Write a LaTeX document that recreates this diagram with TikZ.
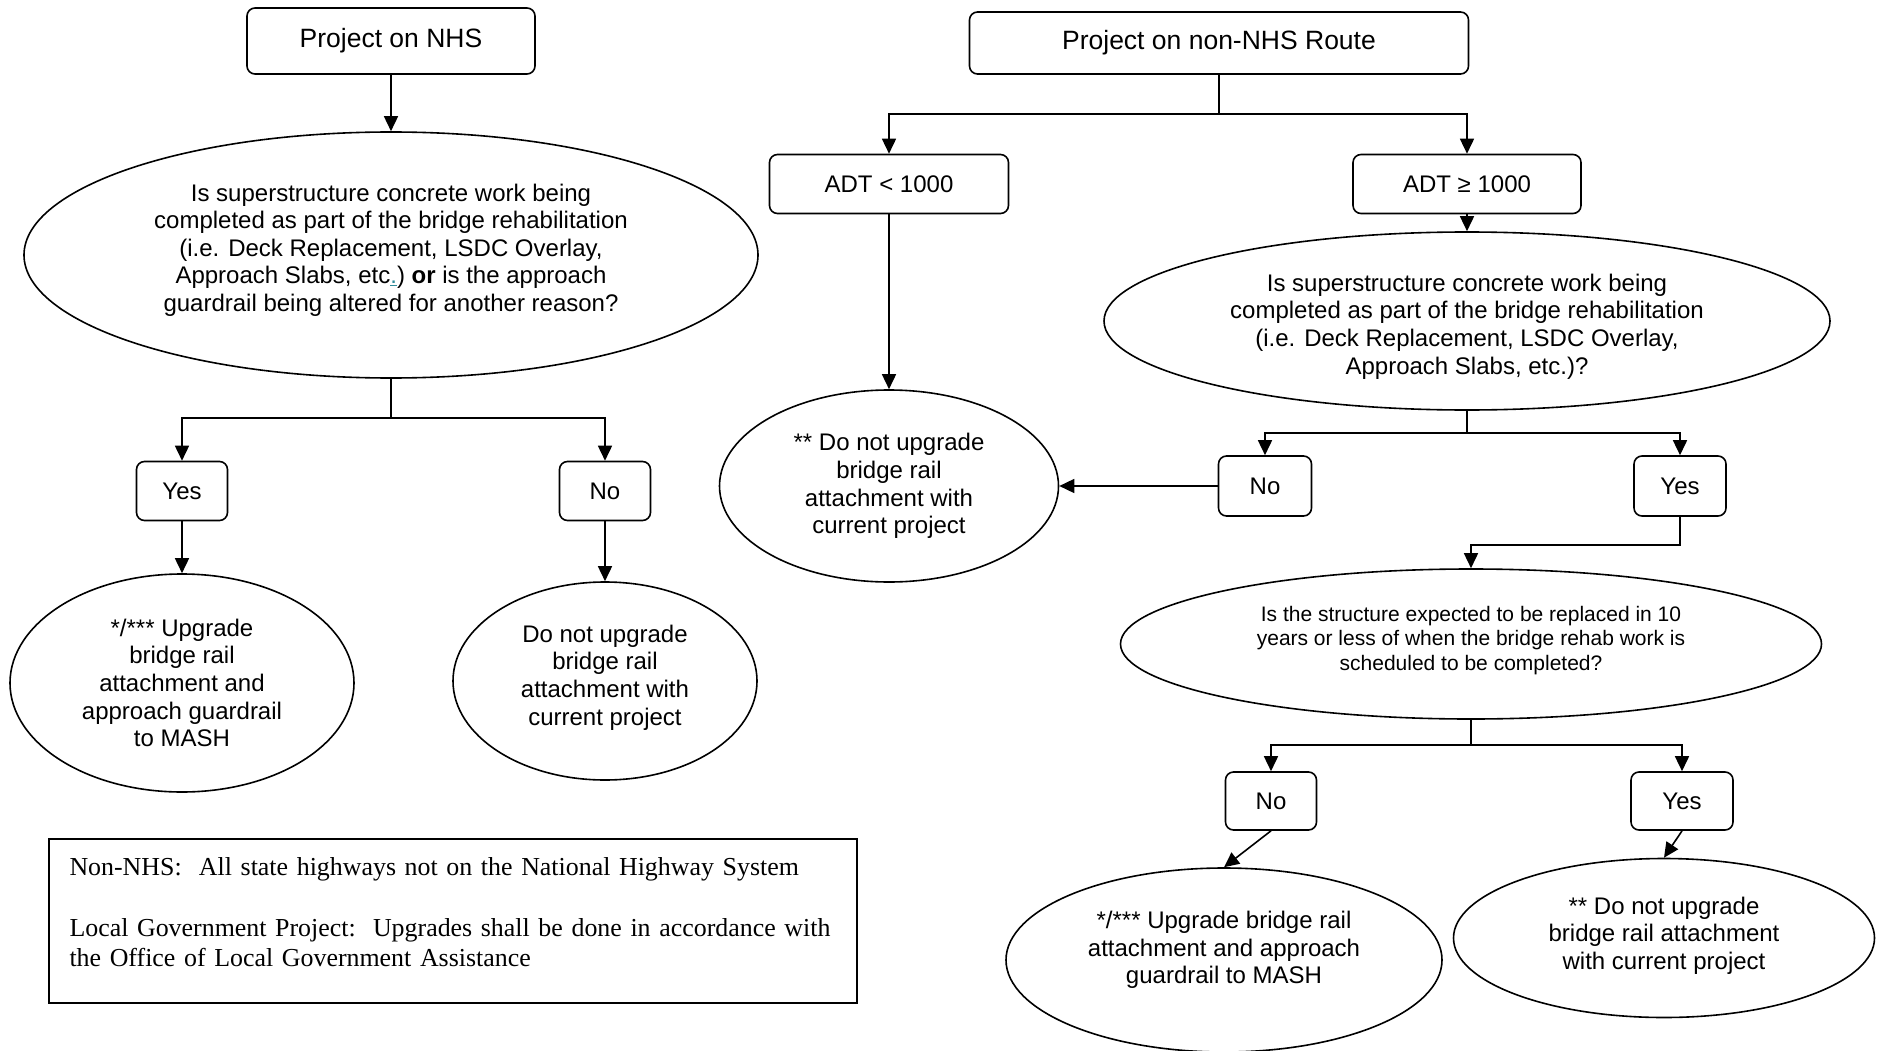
\documentclass[tikz,border=0pt]{standalone}
\usepackage{fontspec}
\setmainfont{Liberation Sans}
\newfontfamily\legendfont{Liberation Serif}
\usetikzlibrary{arrows.meta,shapes.geometric}
\definecolor{markteal}{HTML}{2E8B9A}
\begin{document}
\begin{tikzpicture}[x=1pt,y=-1pt,
  box/.style={draw, rounded corners=8pt, line width=1.6pt, inner sep=0pt, align=center,
    font=\fontsize{24}{27.6}\selectfont},
  bigbox/.style={box, font=\fontsize{26.5}{30}\selectfont},
  oval/.style={draw, ellipse, line width=1.6pt, inner sep=0pt},
  ovaltxt/.style={inner sep=0pt, align=center, font=\fontsize{24}{27.6}\selectfont},
  smalltxt/.style={ovaltxt, font=\fontsize{21}{24.6}\selectfont},
  arr/.style={line width=1.6pt, -{Triangle[length=15pt,width=14pt]}},
  ln/.style={line width=1.6pt},
  legendbox/.style={draw, line width=1.4pt, inner sep=0pt},
  legendtxt/.style={anchor=north west, align=left, inner sep=0pt, text width=790pt,
    font=\legendfont\fontsize{25.9}{30.5}\selectfont}]
\useasboundingbox (0,0) rectangle (1881,1051);

% ---------- left part ----------
\node[bigbox, minimum width=288pt, minimum height=66pt] (nhs) at (391,41) {Project on NHS};
\node[oval, minimum width=734pt, minimum height=246pt] (q1) at (391,255) {};
\node[ovaltxt] (q1t) at ([yshift=5pt]q1.center)
  {Is superstructure concrete work being\\completed as part of the bridge rehabilitation\\(i.e. Deck Replacement, LSDC Overlay,\\Approach Slabs, etc\textcolor{markteal}{\underline{.}}) \textbf{or} is the approach\\guardrail being altered for another reason?};
\coordinate (b1) at (391,418);
\node[box, minimum width=91pt, minimum height=59pt] (yes1) at (182,491) {Yes};
\node[box, minimum width=91pt, minimum height=59pt] (no1) at (605,491) {No};
\node[oval, minimum width=344pt, minimum height=218pt] (up1) at (182,683) {};
\node[ovaltxt] (up1t) at (up1.center)
  {*/*** Upgrade\\bridge rail\\attachment and\\approach guardrail\\to MASH};
\node[oval, minimum width=304pt, minimum height=198pt] (dn1) at (605,681) {};
\node[ovaltxt] (dn1t) at ([yshift=3.6pt]dn1.center)
  {Do not upgrade\\bridge rail\\attachment with\\current project};

\draw[arr] (nhs.south) -- (q1.north);
\draw[ln] (q1.south) -- (b1);
\draw[arr] (b1) -| (yes1.north);
\draw[arr] (b1) -| (no1.north);
\draw[arr] (yes1.south) -- (up1.north);
\draw[arr] (no1.south) -- (dn1.north);

% legend
\node[legendbox, minimum width=808pt, minimum height=164pt] (legend) at (453,921) {};
\node[legendtxt] (legendtext) at ([xshift=21pt,yshift=-19pt]legend.north west)
  {Non-NHS:\ \ All state highways not on the National Highway System\\[30.5pt]
   Local Government Project:\ \ Upgrades shall be done in accordance with\\
   the Office of Local Government Assistance};

% ---------- right part ----------
\node[bigbox, minimum width=499pt, minimum height=62pt] (nnhs) at (1219,43) {Project on non-NHS Route};
\coordinate (b2) at (1219,114);
\node[box, minimum width=239pt, minimum height=59pt] (adtl) at (889,184) {ADT < 1000};
\node[box, minimum width=228pt, minimum height=59pt] (adtg) at (1467,184) {ADT ≥ 1000};
\node[oval, minimum width=339pt, minimum height=192pt] (dn2) at (889,486) {};
\node[ovaltxt] (dn2t) at (dn2.center)
  {** Do not upgrade\\bridge rail\\attachment with\\current project};
\node[oval, minimum width=726pt, minimum height=178pt] (q2) at (1467,321) {};
\node[ovaltxt] (q2t) at ([yshift=-5.4pt]q2.center)
  {Is superstructure concrete work being\\completed as part of the bridge rehabilitation\\(i.e. Deck Replacement, LSDC Overlay,\\Approach Slabs, etc.)?};
\coordinate (b3) at (1467,433);
\node[box, minimum width=93pt, minimum height=60pt] (no2) at (1265,486) {No};
\node[box, minimum width=92pt, minimum height=60pt] (yes2) at (1680,486) {Yes};
\node[oval, minimum width=701pt, minimum height=150pt] (q3) at (1471,644) {};
\node[smalltxt] (q3t) at ([yshift=3.6pt]q3.center)
  {Is the structure expected to be replaced in 10\\years or less of when the bridge rehab work is\\scheduled to be completed?};
\coordinate (b4) at (1471,745);
\node[box, minimum width=91pt, minimum height=58pt] (no3) at (1271,801) {No};
\node[box, minimum width=102pt, minimum height=58pt] (yes3) at (1682,801) {Yes};
\node[oval, minimum width=436pt, minimum height=184pt] (up3) at (1224,960) {};
\node[ovaltxt] (up3t) at ([yshift=10pt]up3.center)
  {*/*** Upgrade bridge rail\\attachment and approach\\guardrail to MASH};
\node[oval, minimum width=421pt, minimum height=159pt] (dn3) at (1664,938) {};
\node[ovaltxt] (dn3t) at ([yshift=2.4pt]dn3.center)
  {** Do not upgrade\\bridge rail attachment\\with current project};

\draw[ln] (nnhs.south) -- (b2);
\draw[arr] (b2) -| (adtl.north);
\draw[arr] (b2) -| (adtg.north);
\draw[arr] (adtl.south) -- (dn2.north);
\draw[arr] (adtg.south) -- (q2.north);
\draw[ln] (q2.south) -- (b3);
\draw[arr] (b3) -| (no2.north);
\draw[arr] (b3) -| (yes2.north);
\draw[arr] (no2.west) -- (dn2.east);
\draw[arr] (yes2.south) -- ++(0,28) -| (q3.north);
\draw[ln] (q3.south) -- (b4);
\draw[arr] (b4) -| (no3.north);
\draw[arr] (b4) -| (yes3.north);
\draw[arr] (no3.south) -- (up3.north);
\draw[arr] (yes3.south) -- (dn3.north);
\end{tikzpicture}
\end{document}
